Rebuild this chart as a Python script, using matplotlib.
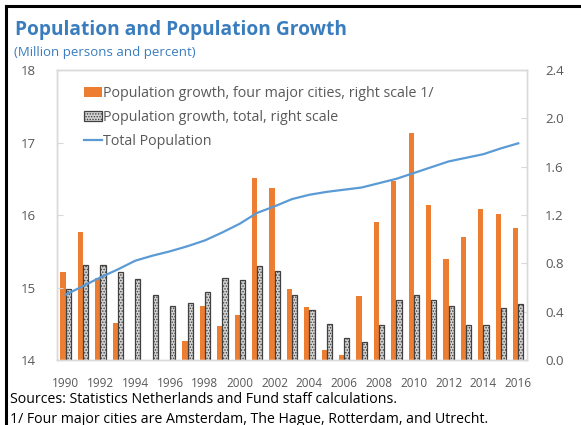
import numpy as np
import matplotlib.pyplot as plt
from matplotlib.patches import Patch
from matplotlib.lines import Line2D

plt.rcParams['font.family'] = ['Open Sans', 'DejaVu Sans']
plt.rcParams['hatch.linewidth'] = 0.7
plt.rcParams['hatch.color'] = '#7F7F7F'

years = list(range(1990, 2017))
growth_cities = [0.73, 1.06, 0.68, 0.31, 0.0, 0.0, 0.0, 0.16, 0.45, 0.28,
                 0.37, 1.51, 1.42, 0.59, 0.44, 0.08, 0.04, 0.53, 1.14, 1.48,
                 1.88, 1.28, 0.84, 1.02, 1.25, 1.21, 1.09]
growth_total = [0.59, 0.79, 0.79, 0.73, 0.67, 0.54, 0.45, 0.47, 0.56, 0.68,
                0.66, 0.78, 0.74, 0.54, 0.41, 0.30, 0.18, 0.15, 0.29, 0.50,
                0.54, 0.50, 0.45, 0.29, 0.29, 0.43, 0.46]
population = [14.90, 15.02, 15.14, 15.25, 15.37, 15.44, 15.50, 15.57, 15.65, 15.76,
              15.88, 16.03, 16.12, 16.22, 16.28, 16.32, 16.35, 16.38, 16.44, 16.50,
              16.58, 16.66, 16.74, 16.79, 16.84, 16.92, 16.99]

orange = '#ED7D31'
blue = '#5B9BD5'
txt = '#595959'
frame = '#D9D9D9'
grey_fill = '#D4D4D4'

fig = plt.figure(figsize=(5.81, 4.25), dpi=100)
ax = fig.add_axes([0.098, 0.153, 0.809, 0.682])

x = np.arange(len(years))
w = 0.3
ax.bar(x - w / 2, growth_cities, w, color=orange, zorder=2)
ax.bar(x + w / 2, growth_total, w, color=grey_fill, edgecolor='#404040',
       hatch='......', linewidth=0.9, zorder=2)
ax.set_ylim(0, 2.4)
ax.set_xlim(-0.5, len(years) - 0.5)
ax.set_xticks(x[::2])
ax.set_xticklabels([str(y) for y in years[::2]])

ax2 = ax.twinx()
ax2.plot(x, population, color=blue, lw=1.6, zorder=3)
ax2.set_ylim(14, 18)
ax2.set_yticks([14, 15, 16, 17, 18])
ax2.yaxis.tick_left()

ax.yaxis.tick_right()
ax.set_yticks(np.arange(0, 2.41, 0.4))
ax.set_yticklabels(['%.1f' % v for v in np.arange(0, 2.41, 0.4)])

for a in (ax, ax2):
    for s in a.spines.values():
        s.set_color(frame)
        s.set_linewidth(1)
    a.tick_params(axis='y', direction='in', length=4, color=frame,
                  labelsize=9.5, labelcolor=txt)
ax.tick_params(axis='x', length=0, labelsize=8.5, labelcolor=txt, pad=12)
ax.tick_params(axis='y', pad=13)
ax2.tick_params(axis='y', pad=15)

handles = [Patch(facecolor=orange),
           Patch(facecolor=grey_fill, edgecolor='#404040', hatch='......', linewidth=0.9),
           Line2D([0], [0], color=blue, lw=1.6)]
labels = ['Population growth, four major cities, right scale 1/',
          'Population growth, total, right scale',
          'Total Population']
ax2.legend(handles, labels, loc='upper left', bbox_to_anchor=(0.045, 0.965),
           frameon=False, fontsize=10.3, labelcolor=txt, handlelength=1.25,
           handleheight=0.75, handletextpad=0.1, labelspacing=0.62,
           borderaxespad=0)

fig.text(0.026, 0.917, 'Population and Population Growth', color='#3A7DBF',
         fontsize=13.8, fontweight='bold', va='baseline')
fig.text(0.024, 0.868, '(Million persons and percent)', color='#3A7DBF',
         fontsize=9.5, va='baseline')
fig.text(0.017, 0.052, 'Sources: Statistics Netherlands and Fund staff calculations.',
         color='black', fontsize=10.2, va='baseline')
fig.text(0.017, 0.004, '1/ Four major cities are Amsterdam, The Hague, Rotterdam, and Utrecht.',
         color='black', fontsize=10.2, va='baseline')

# black edge of the clipped image, left and top
fig.add_artist(Line2D([0.010, 0.010], [0, 0.987], color='black', lw=2.2,
                      transform=fig.transFigure))
fig.add_artist(Line2D([0.010, 1], [0.987, 0.987], color='black', lw=2.2,
                      transform=fig.transFigure))

fig.savefig('out.png', dpi=100)
